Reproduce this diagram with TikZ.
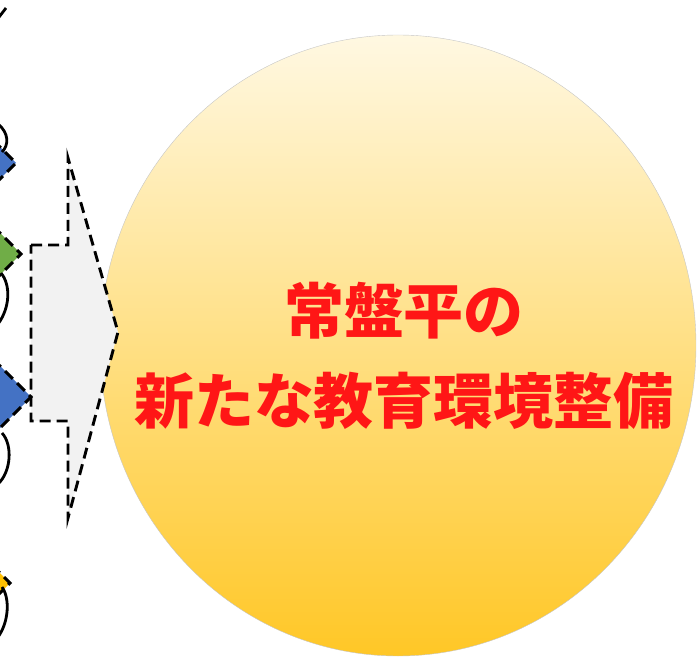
\documentclass[tikz,border=0pt]{standalone}
\usepackage{fontspec}
\newfontfamily\jp{Noto Sans CJK JP}
\usetikzlibrary{shapes.geometric}
\definecolor{dblue}{RGB}{68,114,196}
\definecolor{dgreen}{RGB}{112,173,71}
\definecolor{dyellow}{RGB}{255,192,0}
\definecolor{arrowfill}{RGB}{242,242,242}
\definecolor{txtred}{RGB}{255,22,22}
\definecolor{ctop}{RGB}{255,248,226}
\definecolor{cbot}{RGB}{255,199,38}
\tikzset{
  dashline/.style={draw=black, line width=2.9pt, dash pattern=on 11pt off 6pt},
  swirl/.style={draw=black, line width=2.8pt},
  diam/.style={dashline},
}
\begin{document}
\begin{tikzpicture}[x=1pt,y=-1pt]
\useasboundingbox (0,0) rectangle (697,663);
\clip (0,0) rectangle (697,663);
% big circle
\node[ellipse, minimum width=596pt, minimum height=621pt, inner sep=0pt,
      top color=ctop, bottom color=cbot, draw=gray!45, line width=0.4pt] (goal) at (398,345.5) {};
% notched arrow
\coordinate (a1) at (31,245);
\coordinate (a2) at (68,245);
\coordinate (a3) at (68,158);
\coordinate (tip) at (118,332);
\coordinate (a5) at (68,518);
\coordinate (a6) at (68,421);
\coordinate (a7) at (31,421);
\filldraw[fill=arrowfill, dashline, line join=miter] (a1) -- (a2) -- (a3) -- (tip) -- (a5) -- (a6) -- (a7) -- cycle;
% diamonds (partially visible)
\filldraw[fill=dblue, diam] (-19,128) -- (16,163) -- (-19,198) -- (-54,163) -- cycle;
\filldraw[fill=dgreen, diam] (-19,214) -- (21,254) -- (-19,294) -- (-59,254) -- cycle;
\filldraw[fill=dblue, diam] (-19,347) -- (31,397) -- (-19,447) -- (-69,397) -- cycle;
\filldraw[fill=dyellow, diam] (-20,553) -- (10,583) -- (-20,613) -- (-50,583) -- cycle;
% curved connectors
\coordinate (c0a) at (-4,21);
\coordinate (c0b) at (6,8);
\draw[swirl] (c0a) -- (c0b);
\coordinate (c1a) at (-2,124);
\coordinate (c1b) at (2,152);
\draw[swirl] (c1a) .. controls (9,133) and (9,145) .. (c1b);
\coordinate (c2a) at (1,273);
\coordinate (c2b) at (-2,324);
\draw[swirl] (c2a) .. controls (11,285) and (10,308) .. (c2b);
\coordinate (c3a) at (2,433);
\coordinate (c3b) at (-2,484);
\draw[swirl] (c3a) .. controls (13,445) and (11,472) .. (c3b);
\coordinate (c4a) at (2,587);
\coordinate (c4b) at (-2,637);
\draw[swirl] (c4a) .. controls (10,598) and (9,622) .. (c4b);
% text
\node[text=txtred, align=center, inner sep=0pt, font=\jp\bfseries\fontsize{60}{90}\selectfont] (label) at (404,356) {常盤平の\\新たな教育環境整備};
\end{tikzpicture}
\end{document}
